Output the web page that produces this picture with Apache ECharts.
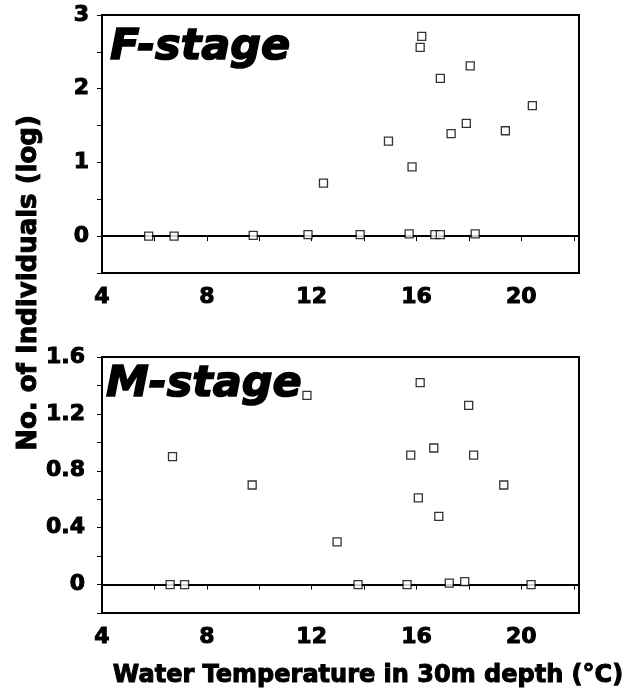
<!DOCTYPE html>
<html>
<head>
<meta charset="utf-8">
<script src="https://cdn.jsdelivr.net/npm/echarts@6/dist/echarts.min.js"></script>
<style>
html,body{margin:0;padding:0;background:#fff;}
#chart{width:629px;height:692px;}
</style>
</head>
<body>
<div id="chart"></div>
<script>
// ---- data ----
const fStageTemp = [16.2, 16.14, 18.05, 16.91, 20.42, 17.9, 17.32, 19.39, 14.93, 15.83, 12.45,
                    5.78, 6.75, 9.77, 11.86, 13.85, 15.72, 16.7, 16.91, 18.24];
const fStageLog  = [2.71, 2.56, 2.31, 2.14, 1.77, 1.53, 1.39, 1.43, 1.29, 0.94, 0.72,
                    0, 0, 0.01, 0.02, 0.02, 0.03, 0.02, 0.02, 0.03];
const mStageTemp = [16.14, 11.82, 17.99, 16.66, 15.78, 18.18, 6.69, 9.73, 19.33, 16.07, 16.85, 12.97,
                    6.6, 7.15, 13.77, 15.64, 17.25, 17.84, 20.37];
const mStageLog  = [1.42, 1.33, 1.26, 0.96, 0.91, 0.91, 0.90, 0.70, 0.70, 0.61, 0.48, 0.30,
                    0, 0, 0, 0, 0.01, 0.02, 0];
const xTicks = [4, 6, 8, 10, 12, 14, 16, 18, 20, 22];
const xLabels = [4, 8, 12, 16, 20];
const fYTicks = [-0.5, 0, 0.5, 1, 1.5, 2, 2.5, 3];
const fYLabels = [0, 1, 2, 3];
const mYTicks = [-0.2, 0, 0.2, 0.4, 0.6, 0.8, 1.0, 1.2, 1.4, 1.6];
const mYLabels = [0, 0.4, 0.8, 1.2, 1.6];
const panelNames = ['F-stage', 'M-stage'];
const yTitle = 'No. of Individuals (log)';
const xTitle = 'Water Temperature in 30m depth (\u00B0C)';

const FONT = '"DejaVu Sans", sans-serif';
const chart = echarts.init(document.getElementById('chart'), null, {renderer: 'canvas'});

const labelBase = {color: '#000', fontFamily: FONT, fontWeight: 'bold', fontSize: 22,
                   textBorderColor: '#000', textBorderWidth: 1};

function xAxisDef(gi) {
  return {
    type: 'value', gridIndex: gi, min: 4, max: 22.2,
    axisLine: {show: true, lineStyle: {color: '#000', width: 2}},
    axisTick: {show: true, customValues: xTicks, length: 5, inside: false, lineStyle: {color: '#000', width: 1}},
    axisLabel: Object.assign({customValues: xLabels, margin: 13}, labelBase),
    splitLine: {show: false}
  };
}
function yAxisDef(gi, min, max, ticks, labels, margin) {
  return {
    type: 'value', gridIndex: gi, min: min, max: max,
    axisLine: {show: true, lineStyle: {color: '#000', width: 2}},
    axisTick: {show: true, customValues: ticks, length: 5, inside: false, lineStyle: {color: '#000', width: 1}},
    axisLabel: Object.assign({customValues: labels, margin: margin,
                formatter: v => String(Math.round(v * 10) / 10)}, labelBase),
    splitLine: {show: false}
  };
}
function pts(xs, ys) { return xs.map((x, i) => [x, ys[i]]); }
const symStyle = {color: '#fff', borderColor: '#000', borderWidth: 1.3};

const titleStyle = {fontFamily: FONT, fontWeight: 'bold', fill: '#000', stroke: '#000', lineWidth: 1};
const stageStyle = {fontFamily: FONT, fontWeight: 'bold', fontStyle: 'italic', fontSize: 43, fill: '#000', stroke: '#000', lineWidth: 1.6, verticalAlign: 'middle'};

chart.setOption({
  animation: false,
  backgroundColor: '#fff',
  grid: [
    {left: 102, top: 15, width: 477, height: 258, show: true, borderColor: '#000', borderWidth: 2, backgroundColor: 'transparent'},
    {left: 102, top: 357, width: 477, height: 256, show: true, borderColor: '#000', borderWidth: 2, backgroundColor: 'transparent'}
  ],
  xAxis: [xAxisDef(0), xAxisDef(1)],
  yAxis: [yAxisDef(0, -0.5, 3, fYTicks, fYLabels, 13), yAxisDef(1, -0.2, 1.6, mYTicks, mYLabels, 17)],
  series: [
    {type: 'scatter', xAxisIndex: 0, yAxisIndex: 0, data: [], z: 1, silent: true,
     markLine: {silent: true, symbol: 'none', label: {show: false}, lineStyle: {color: '#000', width: 1, type: 'solid'}, data: [{yAxis: 0}]}},
    {type: 'scatter', xAxisIndex: 1, yAxisIndex: 1, data: [], z: 1, silent: true,
     markLine: {silent: true, symbol: 'none', label: {show: false}, lineStyle: {color: '#000', width: 1, type: 'solid'}, data: [{yAxis: 0}]}},
    {type: 'scatter', name: panelNames[0], xAxisIndex: 0, yAxisIndex: 0, z: 5, symbol: 'rect', symbolSize: 8,
     itemStyle: symStyle, data: pts(fStageTemp, fStageLog)},
    {type: 'scatter', name: panelNames[1], xAxisIndex: 1, yAxisIndex: 1, z: 5, symbol: 'rect', symbolSize: 8,
     itemStyle: symStyle, data: pts(mStageTemp, mStageLog)}
  ],
  graphic: [
    {type: 'text', x: 110, y: 48, z: 10, style: Object.assign({text: panelNames[0]}, stageStyle)},
    {type: 'text', x: 106, y: 385, z: 10, style: Object.assign({text: panelNames[1]}, stageStyle)},
    {type: 'text', x: 29, y: 283, rotation: Math.PI / 2, style: Object.assign({text: yTitle, fontSize: 26, align: 'center', verticalAlign: 'middle'}, titleStyle)},
    {type: 'text', x: 368, y: 676, style: Object.assign({text: xTitle, fontSize: 24, align: 'center', verticalAlign: 'middle'}, titleStyle)}
  ]
});
</script>
</body>
</html>
